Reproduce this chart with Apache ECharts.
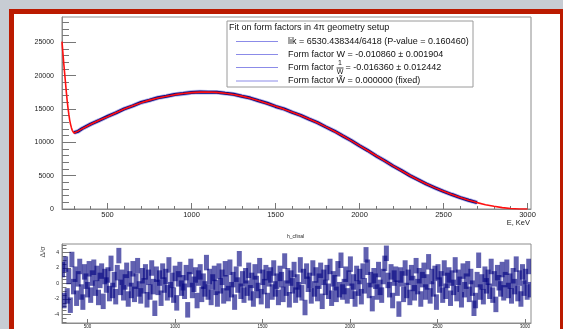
<!DOCTYPE html>
<html><head><meta charset="utf-8">
<script src="https://cdn.jsdelivr.net/npm/echarts@6/dist/echarts.min.js"></script>
<style>
html,body{margin:0;padding:0;background:#c7ccd3;width:563px;height:329px;overflow:hidden;}
#frame{position:absolute;left:9px;top:9px;width:546px;height:330px;border:5px solid #bb1a00;border-bottom:none;background:#fff;}
#c{position:absolute;left:0;top:0;width:563px;height:329px;}
</style>
</head><body><div id="frame"></div><div id="c"></div>
<script>
// ---- spectrum fit (red curve) ----
const fitEnergy = [229,235,240,245,250,255,260,265,270,275,280,285,290,295,300,310,325,350,400,450,500,550,600,650,700,750,800,850,900,950,1000,1050,1100,1150,1200,1250,1300,1350,1400,1450,1500,1550,1600,1650,1700,1750,1800,1850,1900,1950,2000,2050,2100,2150,2200,2250,2300,2350,2400,2450,2500,2550,2600,2650,2700,2750,2800,2850,2900,2950,3000];
const fitCounts = [25100,23200,21700,20300,18900,17500,16200,15100,14150,13300,12700,12200,11800,11520,11400,11480,11680,12050,12700,13300,13850,14450,15000,15500,15950,16330,16650,16920,17150,17330,17460,17530,17540,17490,17370,17180,16930,16620,16250,15840,15400,14980,14520,14030,13500,12930,12320,11670,10990,10260,9500,8740,7980,7220,6470,5740,5030,4360,3740,3170,2650,2160,1720,1310,960,650,400,210,80,10,0];
// ---- measured spectrum (blue points) ----
const dataEnergy = [300,310,325,350,400,450,500,550,600,650,700,750,800,850,900,950,1000,1050,1100,1150,1200,1250,1300,1350,1400,1450,1500,1550,1600,1650,1700,1750,1800,1850,1900,1950,2000,2050,2100,2150,2200,2250,2300,2350,2400,2450,2500,2550,2600,2650,2700];
const dataCounts = [11450,11500,11650,12080,12730,13280,13880,14420,15030,15480,15990,16310,16680,16900,17180,17310,17490,17560,17520,17510,17350,17200,16910,16640,16230,15860,15380,15010,14500,14050,13480,12950,12300,11690,10970,10280,9480,8760,7960,7240,6450,5760,5010,4380,3720,3180,2640,2170,1710,1320,950];
// ---- axis ticks ----
const xMajor = [500,1000,1500,2000,2500,3000];
const xMinor = [300,400,500,600,700,800,900,1000,1100,1200,1300,1400,1500,1600,1700,1800,1900,2000,2100,2200,2300,2400,2500,2600,2700,2800,2900,3000];
const yMajor = [0,5000,10000,15000,20000,25000];
const yMinor = [0,1000,2000,3000,4000,5000,6000,7000,8000,9000,10000,11000,12000,13000,14000,15000,16000,17000,18000,19000,20000,21000,22000,23000,24000,25000,26000,27000,28000];
const rxMajor = [500,1000,1500,2000,2500,3000];
const ryMajor = [-4,-2,0,2,4];
const ryMinor = [-5,-4.5,-4,-3.5,-3,-2.5,-2,-1.5,-1,-0.5,0,0.5,1,1.5,2,2.5,3,3.5,4,4.5,5];
// ---- residuals (data-fit)/sigma, error bar +-1 ----
const residual = [
1.8,-2.2,2.5,-1.6,0.9,-2.8,3.1,-0.4,1.2,-1.9,0.6,2.2,-1.1,-2.4,1.5,0.3,-0.8,1.9,-1.5,0.7,
2.1,-0.6,1.3,-1.8,0.4,1.6,-2.3,0.9,-0.2,1.1,-1.3,2.6,-0.9,0.5,-1.7,1.4,3.6,-0.5,0.8,-1.2,
0.2,1.7,-2.0,0.6,-0.9,1.9,-1.4,0.3,2.3,-0.7,-1.6,1.0,-0.3,1.5,-2.1,0.8,-1.1,2.0,-0.4,-3.2,
1.2,-0.5,0.7,-1.9,1.6,-0.2,0.9,-1.2,2.4,-0.8,0.4,-1.5,1.3,-2.5,0.6,1.8,-0.6,0.1,-1.0,1.4,
-3.4,0.5,2.2,-0.9,-0.1,1.1,-2.2,0.7,1.5,-1.4,0.3,-0.7,2.7,-1.1,0.9,-1.8,0.2,1.3,-0.5,-2.0,
1.6,-0.3,0.8,-1.6,1.9,0.1,-1.3,2.1,-0.8,0.5,-2.4,1.2,-0.2,3.2,-1.0,0.6,-1.5,1.0,-0.6,1.7,
-1.2,0.4,-2.0,1.5,0.0,-0.9,2.3,-1.7,0.8,-0.4,1.4,-2.2,0.6,1.1,-1.1,2.0,-0.7,0.3,-1.8,1.3,
0.5,-1.4,2.9,-0.6,1.0,-2.1,0.7,-0.3,1.8,-1.5,0.2,-0.8,2.4,-1.2,0.9,-3.1,1.6,-0.1,0.4,-1.6,
2.0,-0.7,1.1,-1.3,0.3,1.7,-2.3,0.8,-0.5,1.4,-1.0,2.2,-1.9,0.6,0.1,-1.4,1.9,-0.8,3.0,-1.1,
-0.4,1.2,-1.6,0.7,2.5,-1.0,0.2,-2.0,1.3,-0.6,0.9,-1.7,1.6,-0.3,3.7,2.1,-0.9,0.5,-2.6,1.0,
0.3,-1.1,1.8,-0.5,-1.5,0.9,2.6,3.9,0.4,-0.8,1.5,-2.2,0.7,1.2,-0.6,-3.3,1.1,0.6,-1.4,2.0,
-0.9,0.8,-1.8,1.4,0.0,-1.2,2.3,-0.4,1.0,-2.0,0.5,1.7,-1.1,0.2,2.8,-1.6,0.9,-0.7,1.3,-2.4,
1.5,-0.2,0.6,-1.5,2.0,-1.0,0.4,1.1,-1.9,0.7,-0.5,2.4,-1.3,0.8,-0.1,-2.1,1.6,-0.8,0.3,1.9,
-1.4,0.9,-0.6,-3.2,-2.2,0.5,3.0,-1.1,0.2,-1.7,1.2,-0.3,0.8,-1.0,2.2,-1.5,0.6,-2.7,1.4,0.1,
-0.7,1.8,-1.2,0.5,2.1,-0.9,0.3,-1.6,1.0,-0.4,2.5,-1.3,0.7,-2.0,1.5,-0.6,0.9,-1.1,2.2,-0.8
];
const residErr = 1;
const residFirst = 357, residLast = 3030;

const font = "'Liberation Sans', Arial, sans-serif";
const fitData = fitEnergy.map((e,i)=>[e, fitCounts[i]]);
const measData = dataEnergy.map((e,i)=>[e, dataCounts[i]]);
const residData = residual.map((v,i)=>[residFirst + i*(residLast-residFirst)/(residual.length-1), v]);

const frameCol = '#8c8c8c', tickCol = '#777', labCol = '#222';
const plain = v => String(v);
function tickAxis(opts){ return Object.assign({type:'value', axisLine:{show:false, onZero:false}, splitLine:{show:false}, axisLabel:{show:false}, axisTick:{show:false}}, opts); }

const chart = echarts.init(document.getElementById('c'), null, {renderer:'canvas'});
chart.setOption({
  animation:false,
  backgroundColor:'transparent',
  grid:[
    {left:62, top:17, width:469, height:192, show:true, borderColor:frameCol, borderWidth:1, backgroundColor:'transparent'},
    {left:62, top:244, width:469, height:81, show:true, borderColor:frameCol, borderWidth:1, backgroundColor:'transparent'}
  ],
  xAxis:[
    tickAxis({gridIndex:0, position:'bottom', min:229, max:3021,
      axisLine:{show:true, onZero:false, lineStyle:{color:frameCol, width:1}},
      axisTick:{show:true, inside:true, length:6, customValues:xMajor, lineStyle:{color:tickCol}},
      axisLabel:{show:true, customValues:xMajor, formatter:plain, fontSize:7.5, fontFamily:font, color:labCol, margin:2}}),
    tickAxis({gridIndex:0, position:'bottom', min:229, max:3021,
      axisTick:{show:true, inside:true, length:3, customValues:xMinor, lineStyle:{color:tickCol}}}),
    tickAxis({gridIndex:1, position:'bottom', min:354, max:3034,
      axisLine:{show:true, onZero:false, lineStyle:{color:frameCol, width:1}},
      axisTick:{show:true, inside:true, length:4, customValues:rxMajor, lineStyle:{color:tickCol}},
      axisLabel:{show:true, customValues:rxMajor, formatter:plain, fontSize:4.5, fontFamily:font, color:labCol, margin:1}})
  ],
  yAxis:[
    tickAxis({gridIndex:0, position:'left', min:0, max:28800,
      axisLine:{show:true, onZero:false, lineStyle:{color:frameCol, width:1}},
      axisTick:{show:true, inside:true, length:14, customValues:yMajor, lineStyle:{color:tickCol}},
      axisLabel:{show:true, customValues:yMajor, formatter:plain, fontSize:7, fontFamily:font, color:labCol, margin:8}}),
    tickAxis({gridIndex:0, position:'left', min:0, max:28800,
      axisTick:{show:true, inside:true, length:7, customValues:yMinor, lineStyle:{color:tickCol}}}),
    tickAxis({gridIndex:1, position:'left', min:-5.1, max:5.1,
      axisLine:{show:true, onZero:false, lineStyle:{color:frameCol, width:1}},
      axisTick:{show:true, inside:true, length:9, customValues:ryMajor, lineStyle:{color:tickCol}},
      axisLabel:{show:true, customValues:ryMajor, formatter:plain, fontSize:5, fontFamily:font, color:labCol, margin:3}}),
    tickAxis({gridIndex:1, position:'left', min:-5.1, max:5.1,
      axisTick:{show:true, inside:true, length:4.5, customValues:ryMinor, lineStyle:{color:tickCol}}})
  ],
  series:[
    {type:'line', xAxisIndex:0, yAxisIndex:0, data:measData, symbol:'none', silent:true,
      lineStyle:{color:'rgba(30,30,190,0.35)', width:4.6}, z:2},
    {type:'line', xAxisIndex:0, yAxisIndex:0, data:measData, symbol:'none', silent:true,
      lineStyle:{color:'#08087e', width:3}, z:3},
    {type:'line', xAxisIndex:0, yAxisIndex:0, data:fitData, symbol:'none', silent:true,
      lineStyle:{color:'#ff1010', width:1.6}, z:4},
    {type:'custom', xAxisIndex:2, yAxisIndex:2, data:residData, silent:true, clip:true,
      renderItem:function(params, api){
        const x = api.value(0), v = api.value(1);
        const p1 = api.coord([x, v + residErr]), p2 = api.coord([x, v - residErr]);
        return {type:'rect', shape:{x:p1[0]-2.5, y:p1[1], width:5, height:p2[1]-p1[1]},
          style:{fill:'rgba(0,0,128,0.62)'}};
      }, z:3}
  ],
  graphic:[
    {type:'rect', shape:{x:227, y:21, width:246, height:66}, style:{fill:'#fff', stroke:'#9a9a9a', lineWidth:1}, z:10},
    {type:'text', x:229, y:28, style:{text:'Fit on form factors in 4\u03c0 geometry setup', font:'9px '+font, fill:'#111', textVerticalAlign:'middle'}, z:11},
    {type:'line', shape:{x1:236, y1:41.5, x2:278, y2:41.5}, style:{stroke:'#8b8be8', lineWidth:1}, z:11},
    {type:'text', x:288, y:41.5, style:{text:'lik = 6530.438344/6418 (P-value = 0.160460)', font:'9px '+font, fill:'#111', textVerticalAlign:'middle'}, z:11},
    {type:'line', shape:{x1:236, y1:54.5, x2:278, y2:54.5}, style:{stroke:'#8b8be8', lineWidth:1}, z:11},
    {type:'text', x:288, y:54.5, style:{text:'Form factor W = -0.010860 \u00b1 0.001904', font:'9px '+font, fill:'#111', textVerticalAlign:'middle'}, z:11},
    {type:'line', shape:{x1:236, y1:67.5, x2:278, y2:67.5}, style:{stroke:'#8b8be8', lineWidth:1}, z:11},
    {type:'text', x:288, y:68, style:{text:'Form factor', font:'9px '+font, fill:'#111', textVerticalAlign:'middle'}, z:11},
    {type:'text', x:340, y:63.5, style:{text:'1', font:'7px '+font, fill:'#111', textAlign:'center', textVerticalAlign:'middle'}, z:11},
    {type:'line', shape:{x1:336.5, y1:68, x2:343.5, y2:68}, style:{stroke:'#111', lineWidth:0.8}, z:11},
    {type:'text', x:340, y:72.5, style:{text:'W', font:'7px '+font, fill:'#111', textAlign:'center', textVerticalAlign:'middle'}, z:11},
    {type:'text', x:345.5, y:68, style:{text:'= -0.016360 \u00b1 0.012442', font:'9px '+font, fill:'#111', textVerticalAlign:'middle'}, z:11},
    {type:'line', shape:{x1:236, y1:81, x2:278, y2:81}, style:{stroke:'#8b8be8', lineWidth:1}, z:11},
    {type:'text', x:288, y:81, style:{text:'Form factor W\u0303 = 0.000000 (fixed)', font:'9px '+font, fill:'#111', textVerticalAlign:'middle'}, z:11},
    {type:'text', x:530, y:222.5, style:{text:'E, KeV', font:'7.5px '+font, fill:labCol, textAlign:'right', textVerticalAlign:'middle'}, z:11},
    {type:'text', x:287, y:237, style:{text:'h_cfinal', font:'5px '+font, fill:labCol, textVerticalAlign:'middle'}, z:11},
    {type:'text', x:43, y:252, rotation:Math.PI/2, style:{text:'\u0394/\u03c3', font:'7px '+font, fill:'#555', textAlign:'center', textVerticalAlign:'middle'}, z:11}
  ]
});
</script>
</body></html>
